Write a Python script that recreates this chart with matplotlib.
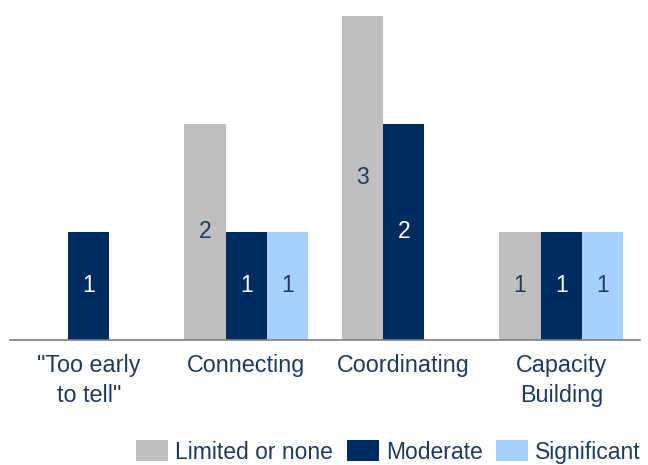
import matplotlib
matplotlib.use("Agg")
import matplotlib.pyplot as plt
import numpy as np

plt.rcParams['font.family'] = ['Liberation Sans', 'DejaVu Sans']

categories = ['"Too early\nto tell"', 'Connecting', 'Coordinating', 'Capacity\nBuilding']
series_names = ['Limited or none', 'Moderate', 'Significant']
limited = [0, 2, 3, 1]
moderate = [1, 1, 2, 1]
significant = [0, 1, 0, 1]

colors = ['#BFBFBF', '#002B5E', '#A8D0FF']
label_colors = ['#1F3A60', 'white', '#1F3A60']
text_color = '#1F3A60'

fig = plt.figure(figsize=(6.48, 4.65), dpi=100)
ax = fig.add_axes([10/648, 1-340/465, 630/648, 324/465])

x = np.arange(len(categories))
w = 0.263
for i, (vals, name) in enumerate(zip([limited, moderate, significant], series_names)):
    bars = ax.bar(x + (i - 1) * w, vals, width=w, color=colors[i], label=name)
    labels = [str(v) if v > 0 else '' for v in vals]
    ax.bar_label(bars, labels=labels, label_type='center', color=label_colors[i], fontsize=16.5)

ax.set_xlim(-0.5, 3.5)
ax.set_ylim(0, 3)
ax.set_xticks(x)
ax.set_xticklabels(categories, fontsize=16.8, color=text_color, linespacing=1.38)
ax.tick_params(axis='x', length=0, pad=10)
ax.set_yticks([])
for s in ['top', 'right', 'left']:
    ax.spines[s].set_visible(False)
ax.spines['bottom'].set_color('#7F7F7F')
ax.spines['bottom'].set_linewidth(1.2)

fig.legend(loc='center', bbox_to_anchor=(388.5/648, 1-452/465), ncol=3, frameon=False,
           fontsize=16.5, handlelength=1.4, handleheight=1.0, handletextpad=0.3,
           columnspacing=0.6, borderpad=0, labelcolor=text_color)

fig.savefig('out.png', dpi=100)
